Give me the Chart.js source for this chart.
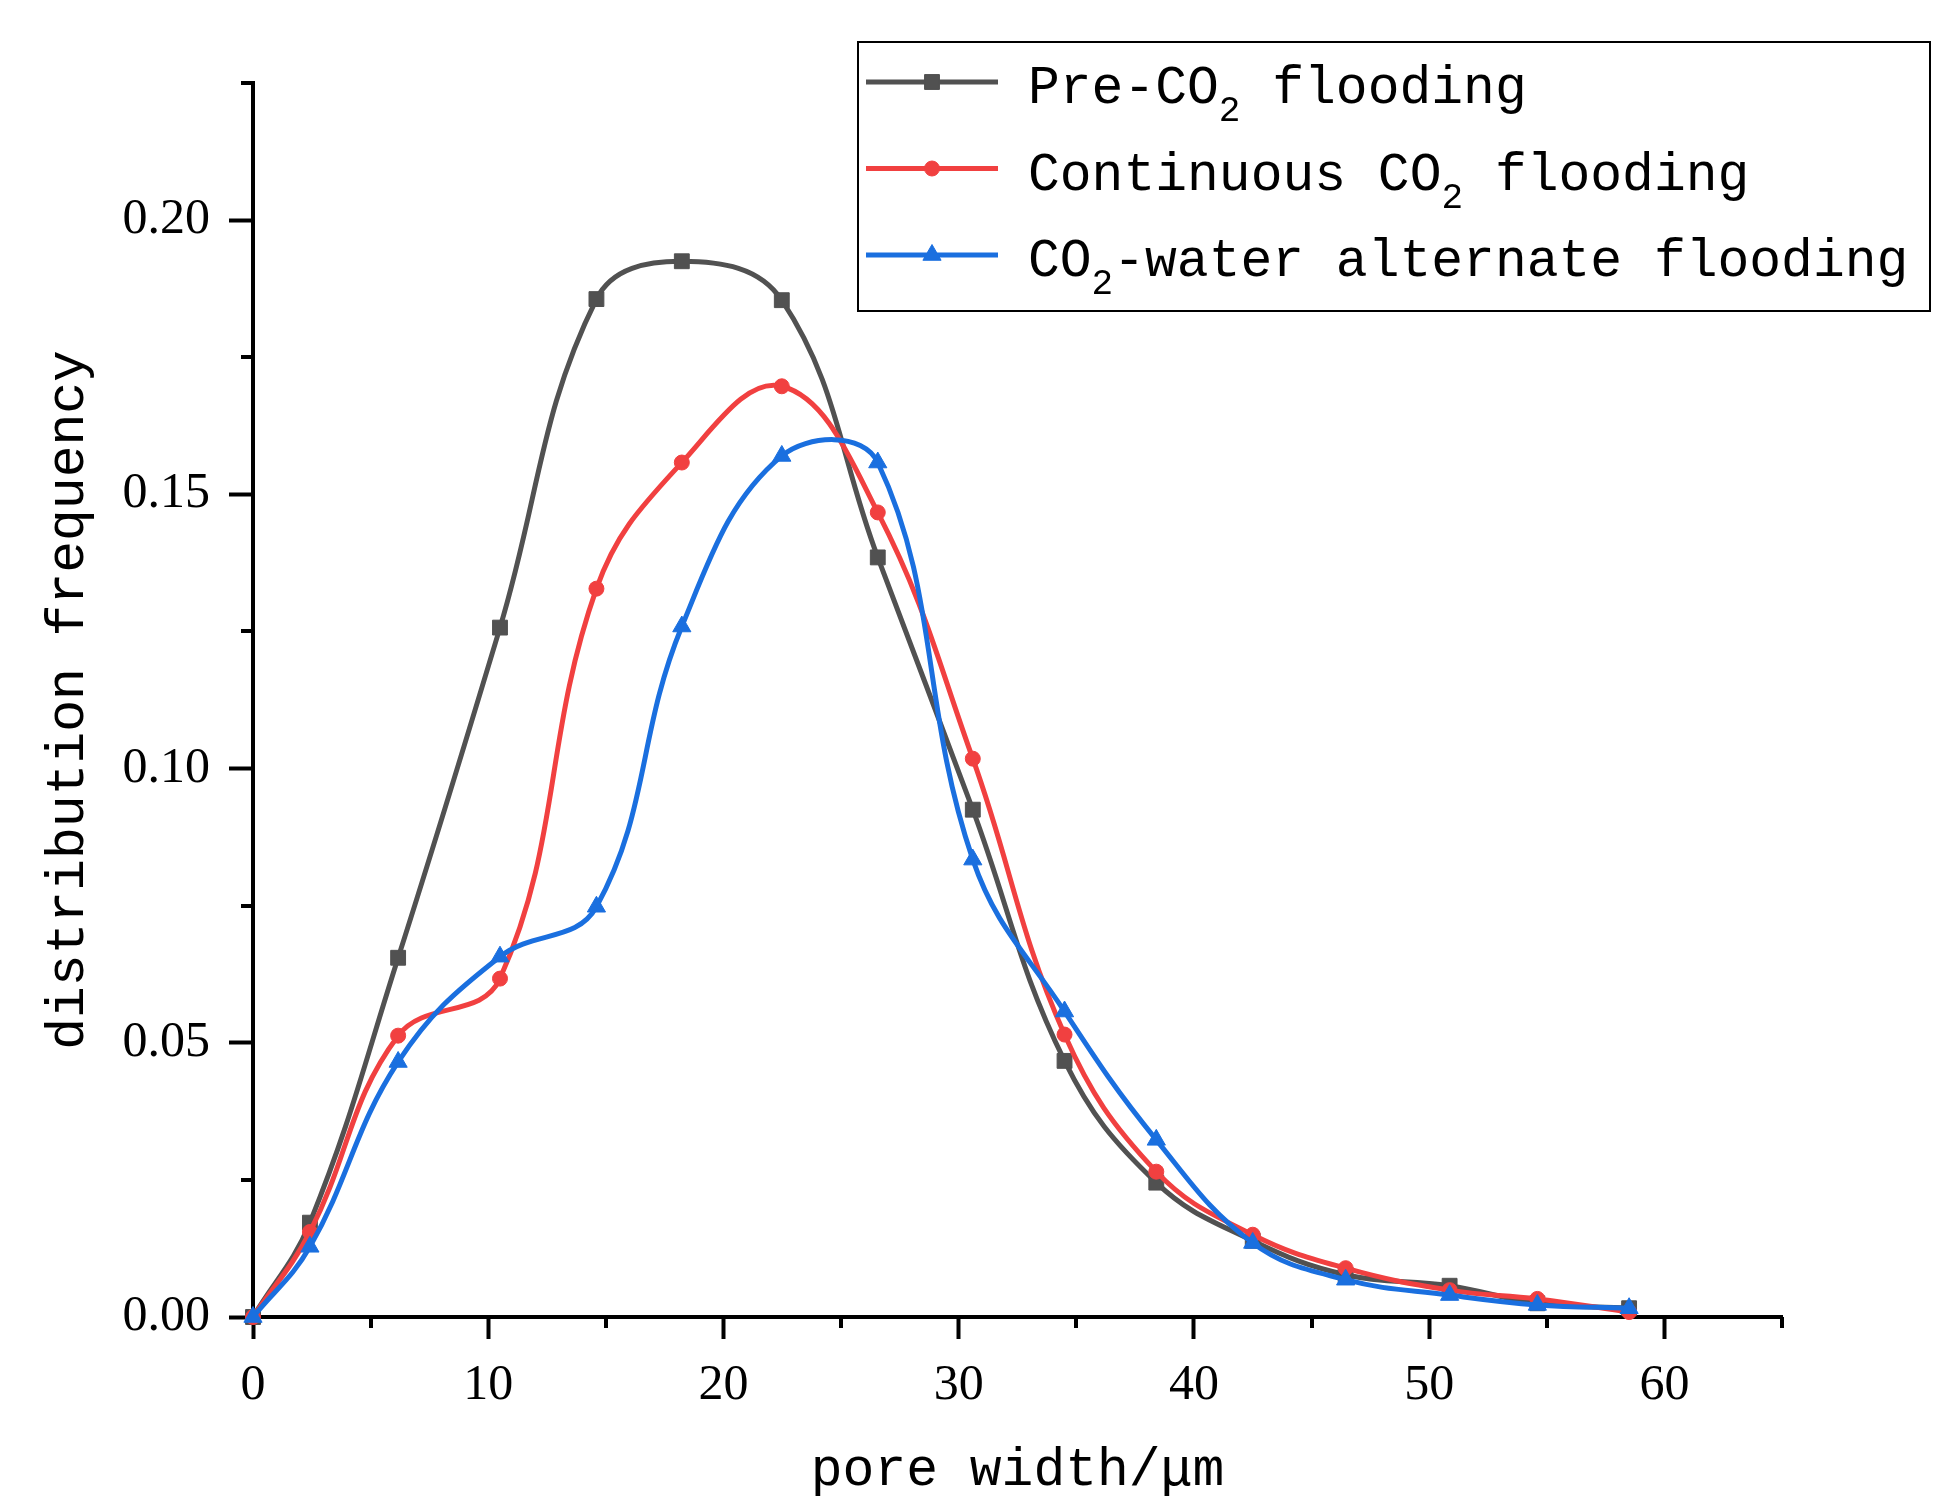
<!DOCTYPE html>
<html>
<head>
<meta charset="utf-8">
<title>pore width distribution</title>
<script src="https://cdn.jsdelivr.net/npm/chart.js"></script>
<style>
  html, body { margin: 0; padding: 0; background: #fff; }
  canvas { display: block; }
</style>
</head>
<body>
<canvas id="poreChart" width="1960" height="1506"></canvas>
<script>
// Datos
const poreWidth = [0, 2.42, 6.17, 10.5, 14.6, 18.23, 22.48, 26.56, 30.6, 34.5, 38.4, 42.5, 46.45, 50.87, 54.6, 58.5];
const preCO2 = [0, 0.0172, 0.0655, 0.1257, 0.1856, 0.1925, 0.1854, 0.1385, 0.0925, 0.0467, 0.0245, 0.0139, 0.0077, 0.0057, 0.0025, 0.0016];
const continuousCO2 = [0, 0.0155, 0.0513, 0.0617, 0.1328, 0.1558, 0.1697, 0.1467, 0.1018, 0.0515, 0.0265, 0.0150, 0.0089, 0.0049, 0.0033, 0.0009];
const alternateCO2 = [0, 0.0128, 0.0465, 0.0657, 0.0748, 0.1259, 0.1570, 0.1558, 0.0834, 0.0557, 0.0323, 0.0135, 0.0068, 0.0040, 0.0022, 0.0016];
const seriesLabels = ['Pre-CO₂ flooding', 'Continuous CO₂ flooding', 'CO₂-water alternate flooding'];

const xTicks = [0, 10, 20, 30, 40, 50, 60];
const xMinor = [5, 15, 25, 35, 45, 55, 65];
const yTicks = [0, 0.05, 0.10, 0.15, 0.20];
const yMinor = [0.025, 0.075, 0.125, 0.175, 0.225];

const colors = ['#515151', '#F14040', '#1A6FDF'];
const markers = ['rect', 'circle', 'triangle'];
const markerSize = [10.5, 7.5, 10.5];

const tickFont = { family: 'Liberation Serif', size: 50, lineHeight: 1 };
const titleFont = { family: 'Liberation Mono', size: 53, lineHeight: 1 };

function toPoints(values) {
    return poreWidth.map((x, i) => ({ x: x, y: values[i] }));
}

function makeDataset(i, values) {
    return {
        label: seriesLabels[i],
        data: toPoints(values),
        borderColor: colors[i],
        backgroundColor: colors[i],
        borderWidth: 5,
        tension: 0.4,
        pointStyle: markers[i],
        pointRadius: markerSize[i],
        pointBorderWidth: 1,
        pointBackgroundColor: colors[i],
        pointBorderColor: colors[i],
        clip: false,
        order: 3 - i // la última serie queda encima
    };
}

// marcas menores y leyenda con borde
const extras = {
    id: 'extras',
    afterDraw(chart) {
        const { ctx, scales: { x, y } } = chart;
        ctx.save();
        ctx.strokeStyle = '#000';
        ctx.lineWidth = 4;
        ctx.beginPath();
        xMinor.forEach(v => {
            const px = Math.round(x.getPixelForValue(v));
            ctx.moveTo(px, x.top);
            ctx.lineTo(px, x.top + 11);
        });
        yMinor.forEach(v => {
            const py = Math.round(y.getPixelForValue(v));
            ctx.moveTo(y.right - 12, py);
            ctx.lineTo(y.right, py);
        });
        ctx.stroke();

        // legend box
        const box = { left: 858, top: 42, right: 1930, bottom: 311 };
        ctx.lineWidth = 2;
        ctx.strokeStyle = '#000';
        ctx.strokeRect(box.left, box.top, box.right - box.left, box.bottom - box.top);

        chart.data.datasets.forEach((ds, i) => {
            const rowY = 82 + i * 86.5;
            ctx.strokeStyle = ds.borderColor;
            ctx.fillStyle = ds.borderColor;
            ctx.lineWidth = 5;
            ctx.beginPath();
            ctx.moveTo(866, rowY);
            ctx.lineTo(998, rowY);
            ctx.stroke();
            ctx.lineWidth = 1;
            Chart.helpers.drawPoint(ctx, {
                pointStyle: ds.pointStyle, radius: ds.pointRadius, rotation: 0, borderWidth: 1
            }, 932, rowY);

            // texto con subíndice
            ctx.fillStyle = '#000';
            ctx.textBaseline = 'alphabetic';
            ctx.textAlign = 'left';
            let tx = 1028;
            const parts = ds.label.split('₂');
            parts.forEach((p, k) => {
                ctx.font = '53px "Liberation Mono"';
                ctx.fillText(p, tx, rowY + 21);
                tx += ctx.measureText(p).width;
                if (k < parts.length - 1) {
                    ctx.font = '36px "Liberation Mono"';
                    ctx.fillText('2', tx, rowY + 39);
                    tx += ctx.measureText('2').width;
                }
            });
        });
        ctx.restore();
    }
};

const ctx = document.getElementById('poreChart').getContext('2d');
const poreChart = new Chart(ctx, {
    type: 'line',
    data: {
        datasets: [
            makeDataset(0, preCO2),
            makeDataset(1, continuousCO2),
            makeDataset(2, alternateCO2)
        ]
    },
    options: {
        responsive: false,
        devicePixelRatio: 1,
        animation: false,
        layout: { padding: { left: 0, top: 83, right: 178, bottom: 0 } },
        plugins: {
            legend: { display: false },
            tooltip: { enabled: false }
        },
        scales: {
            x: {
                type: 'linear',
                min: 0,
                max: 65,
                afterBuildTicks: s => { s.ticks = xTicks.map(v => ({ value: v })); },
                afterFit: s => { s.height = 189; },
                ticks: {
                    autoSkip: false,
                    maxRotation: 0,
                    color: '#000',
                    font: tickFont,
                    padding: 22,
                    callback: v => String(v)
                },
                grid: { drawOnChartArea: false, tickLength: 22, tickWidth: 4, tickColor: '#000', color: '#000' },
                border: { color: '#000', width: 4 },
                title: {
                    display: true,
                    text: 'pore width/μm',
                    color: '#000',
                    font: titleFont,
                    padding: { top: 0, bottom: 9 }
                }
            },
            y: {
                type: 'linear',
                min: 0,
                max: 0.225,
                afterBuildTicks: s => { s.ticks = yTicks.map(v => ({ value: v })); },
                afterFit: s => { s.width = 253; },
                ticks: {
                    color: '#000',
                    font: tickFont,
                    padding: 19,
                    callback: v => v.toFixed(2)
                },
                grid: { drawOnChartArea: false, tickLength: 24, tickWidth: 4, tickColor: '#000', color: '#000' },
                border: { color: '#000', width: 4 },
                title: {
                    display: true,
                    text: 'distribution frequency',
                    color: '#000',
                    font: titleFont,
                    padding: { top: 42, bottom: 0 }
                }
            }
        }
    },
    plugins: [extras]
});
</script>
</body>
</html>
